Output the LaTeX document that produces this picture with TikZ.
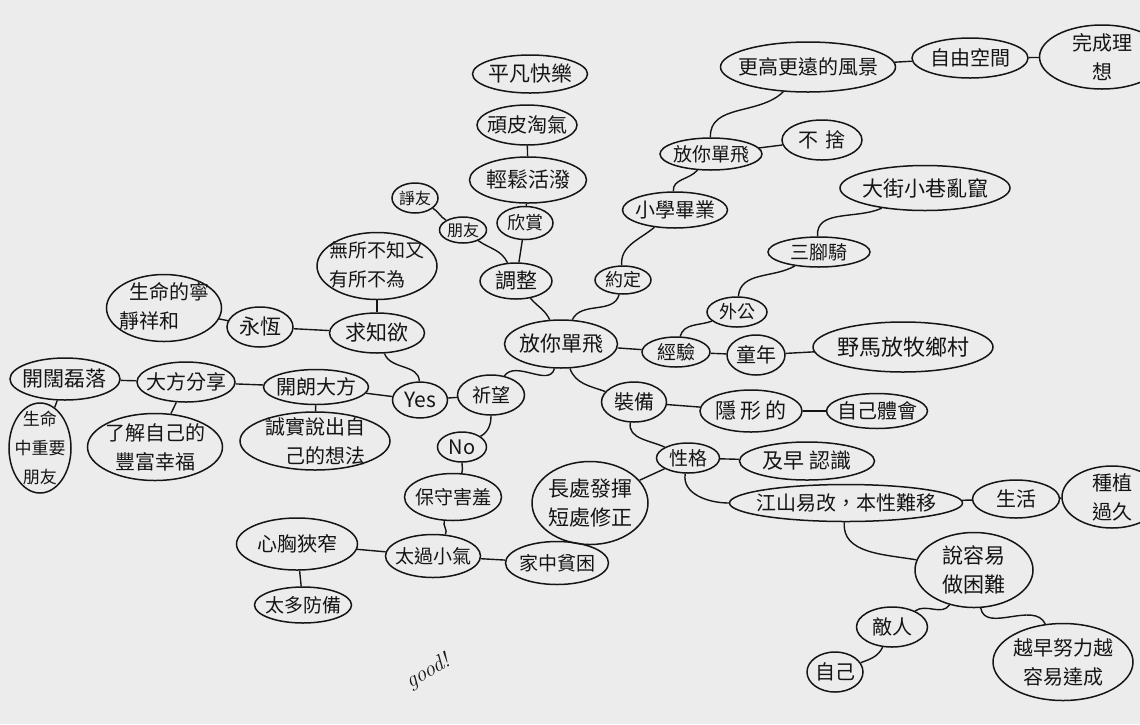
\documentclass[tikz,border=0pt]{standalone}
\usepackage{fontspec}
\newfontfamily\cjk{Noto Sans CJK TC}
\usetikzlibrary{shapes.geometric}
\definecolor{bgc}{HTML}{ECECEC}
\definecolor{ink}{HTML}{151515}
\tikzset{
  bub/.style={ellipse, draw=ink, line width=1.5pt, inner sep=0pt},
  txt/.style={inner sep=0pt, align=center, text=ink},
  con/.style={draw=ink, line width=1.4pt},
}
\newcommand\bubl[7][20]{%
  \node[bub, minimum width=#5pt, minimum height=#6pt] (#2) at (#3,#4) {};
  \node[txt, font=\cjk\fontsize{#1}{29}\selectfont] at (#2.center) {#7};}
\begin{document}
\begin{tikzpicture}[x=1pt,y=-1pt]
\useasboundingbox (0,0) rectangle (1140,724);
\fill[bgc] (0,0) rectangle (1140,724);
\clip (0,0) rectangle (1140,724);

% centre and upper right branch
\bubl[21]{c}{561}{344}{113}{48}{放你單飛}
\bubl[18]{yue}{623}{280}{56}{28}{約定}
\bubl[20]{xx}{675}{210}{105}{36}{小學畢業}
\bubl[19]{fn}{711}{154}{102}{32}{放你單飛}
\bubl[20]{bs}{822}{140}{80}{40}{不\hspace{7pt}捨}
\bubl[20]{gg}{808}{67}{175}{50}{更高更遠的風景}
\bubl[20]{zy}{970}{58}{116}{40}{自由空間}
\bubl[20]{wc}{1102}{57}{125}{64}{完成理\\想}

% experience branch
\bubl[19]{jy}{676}{352}{68}{30}{經驗}
\bubl[18]{wg}{737}{312}{60}{30}{外公}
\bubl[19]{sj}{819}{252}{102}{30}{三腳騎}
\bubl[21]{dj}{925}{188}{170}{45}{大街小巷亂竄}
\bubl[20]{tn}{756}{355}{58}{40}{童年}
\bubl[22]{ym}{903}{347}{180}{50}{野馬放牧鄉村}

% equipment branch
\bubl[20]{zb}{634}{402}{65}{40}{裝備}
\bubl[21]{yx}{751}{411}{102}{42}{隱\hspace{4pt}形\hspace{4pt}的}
\bubl[20]{zj}{877}{411}{101}{35}{自己體會}
\bubl[19]{xg}{688}{458}{63}{30}{性格}
\bubl[21]{jz}{807}{461}{135}{38}{及早\hspace{6pt}認識}
\bubl[20]{js}{846}{503}{233}{37}{江山易改，本性難移}
\bubl[20]{sh}{1016}{499}{87}{38}{生活}
\bubl[20]{zz}{1112}{497}{100}{62}{種植\\過久}
\bubl[21]{sr}{974}{570}{118}{75}{說容易\\做困難}
\bubl[20]{dr}{892}{627}{71}{40}{敵人}
\bubl[20]{zj2}{835}{672}{56}{40}{自己}
\bubl[20]{yz}{1063}{662}{140}{77}{越早努力越\\容易達成}
\bubl[21]{cc}{590}{503}{116}{83}{長處發揮\\短處修正}

% wish branch
\bubl[19]{qw}{491}{395}{67}{40}{祈望}
\bubl[21]{yes}{420}{400}{55}{36}{Yes}
\bubl[20]{no}{462}{447}{49}{30}{No}
\bubl[19]{bs2}{453}{497}{97}{47}{保守害羞}
\bubl[19]{tg}{433}{556}{95}{43}{太過小氣}
\bubl[19]{jz2}{557}{563}{103}{43}{家中貧困}
\bubl[20]{xx2}{297}{544}{121}{52}{心胸狹窄}
\bubl[19]{td}{303}{605}{97}{36}{太多防備}
\bubl[21]{qz}{377}{333}{95}{40}{求知欲}
\bubl[19]{ws}{377}{266}{120}{67}{\begin{tabular}{@{}l@{}}無所不知又\\有所不為\end{tabular}}
\bubl[21]{yh}{260}{327}{66}{40}{永恆}
\bubl[20]{sn}{164}{308}{115}{67}{\begin{tabular}{@{}l@{}}\hspace{10pt}生命的寧\\靜祥和\end{tabular}}
\bubl[20]{kl}{316}{387}{105}{35}{開朗大方}
\bubl[20]{df}{186}{382}{98}{40}{大方分享}
\bubl[21]{kk}{65}{379}{110}{42}{開闊磊落}
\bubl[20]{lj}{155}{447}{135}{67}{了解自己的\\豐富幸福}
\bubl[20]{cs}{315}{441}{150}{58}{誠實說出自\\\hspace{20pt}己的想法}
\bubl[17]{sm}{40}{448}{62}{90}{生命\\中重要\\朋友}

% adjust branch
\bubl[21]{tz}{516}{281}{72}{36}{調整}
\bubl[16]{py}{463}{230}{47}{26}{朋友}
\bubl[16]{zy2}{415}{198}{46}{30}{諍友}
\bubl[18]{xs}{525}{223}{56}{33}{欣賞}
\bubl[21]{qs}{528}{180}{117}{46}{輕鬆活潑}
\bubl[20]{wp}{527}{125}{100}{40}{頑皮淘氣}
\bubl[21]{pf}{530}{74}{115}{38}{平凡快樂}

\node[txt, rotate=30, font=\itshape\fontsize{22}{24}\selectfont] (good) at (428,672) {good!};

% connectors
\draw[con] (c) to[out=65,in=-105] (yue);
\draw[con] (c) to[out=115,in=-50] (tz);
\draw[con] (c) -- (jy);
\draw[con] (c) to[out=-70,in=160] (zb);
\draw[con] (c) to[out=-105,in=55] (qw);
\draw[con] (yue) to[out=95,in=-140] (xx);
\draw[con] (xx) to[out=95,in=-130] (fn);
\draw[con] (fn) to[out=92,in=-135] (gg);
\draw[con] (fn) -- (bs);
\draw[con] (gg) -- (zy);
\draw[con] (zy) -- (wc);
\draw[con] (jy) to[out=75,in=-160] (wg);
\draw[con] (jy) -- (tn);
\draw[con] (tn) -- (ym);
\draw[con] (wg) to[out=85,in=-150] (sj);
\draw[con] (sj) to[out=95,in=-155] (dj);
\draw[con] (zb) -- (yx);
\draw[con] (yx) -- (zj);
\draw[con] (zb) to[out=-100,in=155] (xg);
\draw[con] (xg) -- (jz);
\draw[con] (xg) to[out=-100,in=180] (js);
\draw[con] (xg) -- (cc);
\draw[con] (js) -- (sh);
\draw[con] (sh) -- (zz);
\draw[con] (js) to[out=-95,in=170] (sr);
\draw[con] (sr) to[out=-125,in=35] (dr);
\draw[con] (dr) to[out=-115,in=20] (zj2);
\draw[con] (sr) to[out=-80,in=115] (yz);
\draw[con] (qw) -- (yes);
\draw[con] (qw) to[out=-90,in=30] (no);
\draw[con] (yes) to[out=92,in=-70] (qz);
\draw[con] (yes) -- (kl);
\draw[con] (no) to[out=-90,in=70] (bs2);
\draw[con] (bs2) to[out=-110,in=60] (tg);
\draw[con] (tg) -- (jz2);
\draw[con] (tg) -- (xx2);
\draw[con] (xx2) -- (td);
\draw[con] (kl) -- (df);
\draw[con] (kl) -- (cs);
\draw[con] (df) -- (kk);
\draw[con] (df) -- (lj);
\draw[con] (kk) -- (sm);
\draw[con] (qz) -- (yh);
\draw[con] (yh) -- (sn);
\draw[con] (qz) -- (ws);
\draw[con] (tz) to[out=115,in=-35] (py);
\draw[con] (tz) -- (xs);
\draw[con] (xs) -- (qs);
\draw[con] (qs) -- (wp);
\draw[con] (py) to[out=150,in=-30] (zy2);
\end{tikzpicture}
\end{document}
